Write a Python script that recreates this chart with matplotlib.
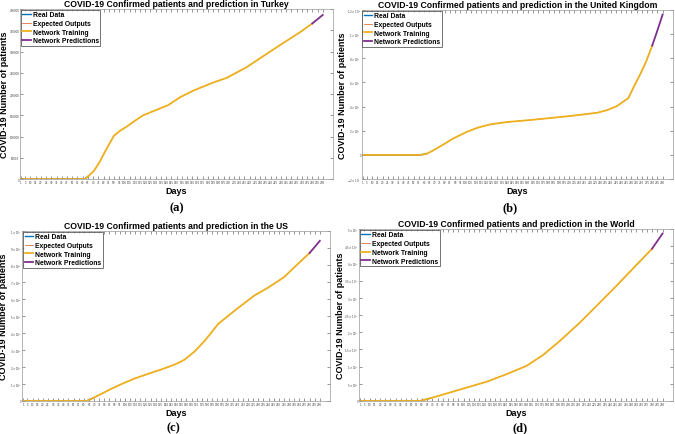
import matplotlib.pyplot as plt
from matplotlib.ticker import FuncFormatter
import numpy as np

# days / cases (training part, then prediction part)
tr_days = [1, 62, 66, 71, 76, 82, 90, 96, 102, 110, 118, 130, 142, 153, 166,
           185, 198, 217, 236, 249, 268, 280]
tr_turkey = [0, 0, 8e3, 20e3, 39e3, 67e3, 102e3, 114e3, 123e3, 137e3, 150e3,
             162e3, 174e3, 192e3, 208e3, 227e3, 238e3, 263e3, 294e3, 315e3,
             345e3, 366e3]
pr_days = [280, 285, 290]
pr_turkey = [366e3, 376e3, 386e3]

uk_days = [1, 56, 62, 68, 79, 88, 101, 112, 124, 140, 159, 185, 204, 227, 236,
           246, 257, 262, 268, 274, 280]
uk_vals = [0, 0, 8e3, 33e3, 88e3, 135e3, 190e3, 226e3, 253e3, 272e3, 286e3,
           308e3, 325e3, 349e3, 369e3, 404e3, 470e3, 560e3, 660e3, 770e3, 905e3]
uk_pred = [905e3, 1030e3, 1161e3]

us_days = [1, 63, 70, 85, 97, 110, 123, 136, 149, 158, 168, 178, 191, 207, 226,
           239, 255, 265, 280]
us_vals = [0, 0, 0.2e6, 0.66e6, 1.0e6, 1.33e6, 1.6e6, 1.86e6, 2.15e6, 2.42e6,
           2.91e6, 3.55e6, 4.53e6, 5.31e6, 6.19e6, 6.64e6, 7.27e6, 7.85e6, 8.7e6]
us_pred = [8.7e6, 9.05e6, 9.41e6]

w_days = [1, 58, 68, 84, 103, 122, 141, 160, 176, 192, 211, 230, 246, 262, 280]
w_vals = [0, 0, 0.78e6, 2.2e6, 3.9e6, 5.6e6, 7.8e6, 10.2e6, 13.4e6, 17.5e6,
          22.8e6, 28.6e6, 33.5e6, 38.6e6, 44.3e6]
w_pred = [44.3e6, 46.5e6, 48.7e6]

xtick_days = [1] + list(range(5, 295, 5))

c_real = '#0072BD'
c_exp = '#D95319'
c_train = '#EDB120'
c_pred = '#7E2F8E'


def sci(exp):
    def f(v, pos):
        if v == 0:
            return '0'
        m = v / 10 ** exp
        e = exp
        if abs(m) >= 10:
            m = m / 10
            e = exp + 1
        return r'$%s\times10^{%d}$' % ('%g' % m, e)
    return FuncFormatter(f)


panels = [
    ('Turkey', tr_days, tr_turkey, pr_turkey, [0.0296, 0.586, 0.464, 0.391],
     (0, 4e5), np.arange(0, 4.01e5, 5e4), FuncFormatter(lambda v, p: '%d' % v),
     '(a)', (177, 208), -0.034),
    ('the United Kingdom', uk_days, uk_vals, uk_pred, [0.536, 0.586, 0.461, 0.389],
     (-2e5, 1.2e6), np.arange(-2e5, 1.21e6, 2e5), sci(5), '(b)', (510, 208), -0.049),
    ('the US', us_days, us_vals, us_pred, [0.033, 0.076, 0.456, 0.391],
     (0, 1e7), np.arange(0, 1.01e7, 1e6), sci(6), '(c)', (173, 428), -0.045),
    ('the World', w_days, w_vals, w_pred, [0.532, 0.076, 0.465, 0.395],
     (0, 5e7), np.arange(0, 5.01e7, 5e6), sci(6), '(d)', (520, 428), -0.044),
]

fig = plt.figure(figsize=(6.75, 4.35), dpi=100)
for name, d, v, p, pos, ylim, yt, fmt, lab, lpos, ylx in panels:
    ax = fig.add_axes(pos)
    ax.plot(d[:3], v[:3], color=c_real, lw=1.0, label='Real Data')
    ax.plot(d, v, color=c_exp, lw=0.5, label='Expected Outputs')
    ax.plot(d, v, color=c_train, lw=1.3, label='Network Training')
    ax.plot(pr_days, p, color=c_pred, lw=1.3, label='Network Predictions')
    ax.set_xlim(0, 300)
    ax.set_ylim(*ylim)
    ax.set_xticks(xtick_days)
    ax.set_xticklabels([str(t) for t in xtick_days], fontsize=2.0)
    ax.set_yticks(yt)
    ax.yaxis.set_major_formatter(fmt)
    ax.tick_params(axis='y', labelsize=2.0, pad=0.5)
    ax.tick_params(axis='x', pad=1)
    ax.tick_params(direction='in', length=2, width=0.4, top=True, right=True,
                   colors='#444444')
    for s in ax.spines.values():
        s.set_linewidth(0.5)
        s.set_color('#999999')
    ax.set_title('COVID-19 Confirmed patients and prediction in ' + name,
                 fontsize=6.2, fontweight='bold', family='Liberation Sans', pad=2)
    ax.set_xlabel('Days', fontsize=6.5, fontweight='bold', family='Liberation Sans', labelpad=1)
    ax.set_ylabel('COVID-19 Number of patients', fontsize=6.5, fontweight='bold',
                  family='Liberation Sans')
    ax.yaxis.set_label_coords(ylx, 0.5)
    leg = ax.legend(loc='upper left', frameon=True, fancybox=False,
                    borderpad=0.25, labelspacing=0.25, handlelength=1.2,
                    handletextpad=0.3, borderaxespad=0.1,
                    prop={'family': 'Liberation Sans', 'weight': 'bold', 'size': 4.9})
    leg.get_frame().set_edgecolor('#333333')
    leg.get_frame().set_linewidth(0.6)
    fig.text(lpos[0] / 675, 1 - lpos[1] / 435, lab, ha='center', va='center',
             fontsize=9, fontweight='bold', family='Liberation Serif')

fig.savefig('out.png', dpi=100)
